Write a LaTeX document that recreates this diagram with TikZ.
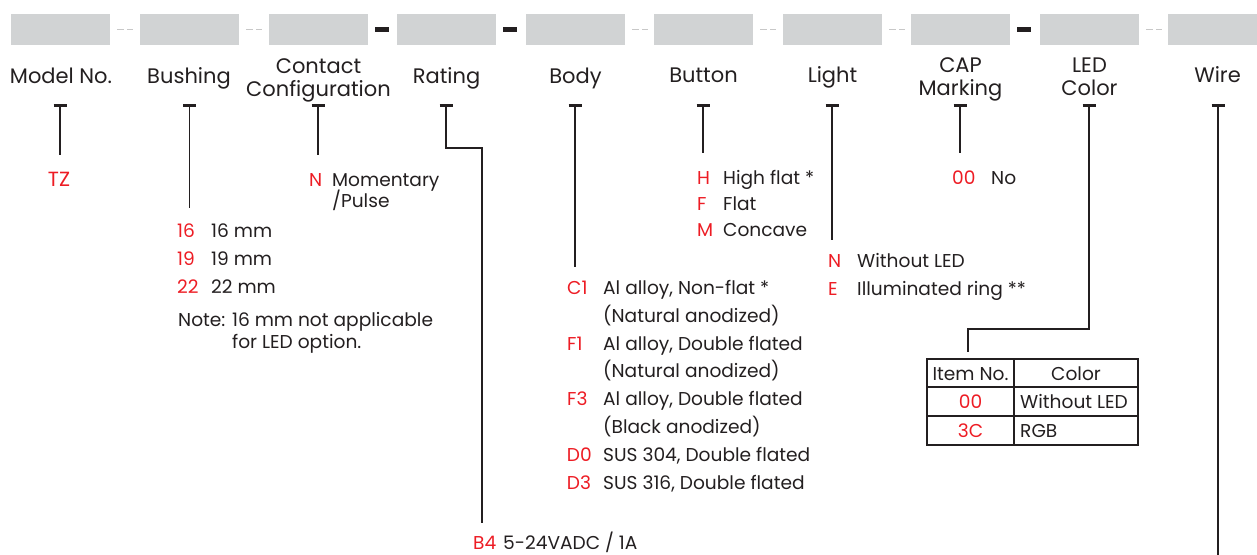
\documentclass[tikz,border=0pt]{standalone}
\usepackage{fontspec}
\setmainfont{Poppins}
\definecolor{ink}{HTML}{231F20}
\definecolor{codered}{HTML}{ED1C24}
\definecolor{slotgrey}{HTML}{D1D3D4}
\definecolor{sepgrey}{HTML}{C8C8C8}
\newcommand{\hdrfont}{\fontsize{21}{23}\selectfont}
\newcommand{\bodyfont}{\fontsize{18.6}{21}\selectfont}
\tikzset{
  slotbox/.style={fill=slotgrey, draw=none, minimum width=99, minimum height=31, inner sep=0},
  sepdash/.style={draw=sepgrey, line width=1.8, dash pattern=on 7pt off 3pt},
  blackdash/.style={draw=ink, line width=5},
  hdr/.style={font=\hdrfont, text=ink, inner sep=0, anchor=base},
  code/.style={font=\bodyfont, text=codered, inner sep=0, anchor=base west},
  desc/.style={font=\bodyfont, text=ink, inner sep=0, anchor=base west},
  conn/.style={draw=ink, line width=1.8},
  tbar/.style={draw=ink, line width=3},
  cell/.style={draw=ink, line width=1.2, inner sep=0, font=\bodyfont, text=ink},
}
\begin{document}
\begin{tikzpicture}[x=1pt,y=-1pt]
\useasboundingbox (0,0) rectangle (1257,554);
\clip (0,0) rectangle (1257,554);
% slots
\foreach \i/\x in {1/11,2/140,3/269,4/397,5/526,6/654,7/783,8/911,9/1040,10/1168}
  \node[slotbox] (s\i) at (\x+49.5,29.5) {};
% separators
\foreach \a/\b in {1/2,2/3,5/6,6/7,7/8,9/10}
  \draw[sepdash] ([xshift=7]s\a.east) -- ([xshift=23]s\a.east);
\foreach \a in {3,4,8}
  \draw[blackdash] ([xshift=7]s\a.east) -- ([xshift=21]s\a.east);
% headers
\node[hdr] (h1) at (61,83) {Model No.};
\node[hdr] (h2) at (189,83) {Bushing};
\node[hdr] (h3a) at (318.5,73) {Contact};
\node[hdr] (h3b) at (318.5,96.5) {Configuration};
\node[hdr] (h4) at (446.5,83) {Rating};
\node[hdr] (h5) at (575.5,83) {Body};
\node[hdr] (h6) at (703.5,82.5) {Button};
\node[hdr] (h7) at (832.5,82.5) {Light};
\node[hdr] (h8a) at (960.5,72.5) {CAP};
\node[hdr] (h8b) at (960.5,95.5) {Marking};
\node[hdr] (h9a) at (1089.5,72.5) {LED};
\node[hdr] (h9b) at (1089.5,95.5) {Color};
\node[hdr] (h10) at (1217.5,82.5) {Wire};
% connector coordinates
\foreach \n/\x in {1/60,2/189.5,3/318,4/446,5/575,6/703,7/832,8/960,9/1089,10/1218}
  \coordinate (t\n) at (\x,104);
\coordinate (e1) at (60,155);
\coordinate (e2) at (189.5,208);
\coordinate (e3) at (318,155);
\coordinate (r1) at (446,148);
\coordinate (r2) at (482,148);
\coordinate (e4) at (482,523);
\coordinate (e5) at (575,267);
\coordinate (e6) at (703,153);
\coordinate (e7) at (832,240);
\coordinate (e8) at (960,153);
\coordinate (l1) at (1089,329);
\coordinate (l2) at (968,329);
\coordinate (e9) at (968,352);
\coordinate (e10) at (1218,556);
% T bars
\foreach \n in {1,...,10}
  \draw[tbar] ([xshift=-6.5pt,yshift=-1.5pt]t\n) -- ([xshift=6.5pt,yshift=-1.5pt]t\n);
% connectors
\draw[conn] (t1) -- (e1);
\draw[conn] (t2) -- (e2);
\draw[conn] (t3) -- (e3);
\draw[conn] (t4) -- (r1) -- (r2) -- (e4);
\draw[conn] (t5) -- (e5);
\draw[conn] (t6) -- (e6);
\draw[conn] (t7) -- (e7);
\draw[conn] (t8) -- (e8);
\draw[conn] (t9) -- (l1) -- (l2) -- (e9);
\draw[conn] (t10) -- (e10);
% Model No.
\node[hdr, text=codered, font=\fontsize{20.5}{22}\selectfont] (tz) at (59,186) {TZ};
% Bushing
\node[code] (c16) at (177,237.5) {16};
\node[desc] (d16) at (211,237.5) {16 mm};
\node[code] (c19) at (177,265.5) {19};
\node[desc] (d19) at (211,265.5) {19 mm};
\node[code] (c22) at (177,293.3) {22};
\node[desc] (d22) at (211,293.3) {22 mm};
\node[desc] (note1) at (178,326.7) {Note: 16 mm not applicable};
\node[desc] (note2) at (232,348.3) {for LED option.};
% Contact
\node[code] (cN) at (309,186) {N};
\node[desc] (dN1) at (332,186) {Momentary};
\node[desc] (dN2) at (332,207) {/Pulse};
% Rating
\node[code] (cB4) at (473,549.5) {B4};
\node[desc] (dB4) at (503,549.5) {5-24VADC / 1A};
% Body
\node[code] (cC1) at (567,294) {C1};
\node[desc] (dC1a) at (603,294) {Al alloy, Non-flat *};
\node[desc] (dC1b) at (603,322) {(Natural anodized)};
\node[code] (cF1) at (567,350) {F1};
\node[desc] (dF1a) at (603,350) {Al alloy, Double flated};
\node[desc] (dF1b) at (603,377.7) {(Natural anodized)};
\node[code] (cF3) at (567,405.5) {F3};
\node[desc] (dF3a) at (603,405.5) {Al alloy, Double flated};
\node[desc] (dF3b) at (603,433.3) {(Black anodized)};
\node[code] (cD0) at (566.7,461) {D0};
\node[desc] (dD0) at (603,461) {SUS 304, Double flated};
\node[code] (cD3) at (566.7,489) {D3};
\node[desc] (dD3) at (603,489) {SUS 316, Double flated};
% Button
\node[code] (cH) at (697,184.3) {H};
\node[desc] (dH) at (723,184.3) {High flat *};
\node[code] (cF) at (697,210.3) {F};
\node[desc] (dF) at (723,210.3) {Flat};
\node[code] (cM) at (697,236.5) {M};
\node[desc] (dM) at (723,236.5) {Concave};
% Light
\node[code] (cLN) at (828,267.3) {N};
\node[desc] (dLN) at (857,267.3) {Without LED};
\node[code] (cLE) at (828,295.5) {E};
\node[desc] (dLE) at (857,295.5) {Illuminated ring **};
% CAP
\node[code] (c00) at (952,184.3) {00};
\node[desc] (d00) at (991,184.3) {No};
% LED colour table
\node[cell, minimum width=87, minimum height=28] (ti) at (970.5,373) {};
\node[cell, minimum width=124, minimum height=28] (tc) at (1076,373) {};
\node[cell, minimum width=87, minimum height=29] (t00) at (970.5,401.5) {};
\node[cell, minimum width=124, minimum height=29] (tw) at (1076,401.5) {};
\node[cell, minimum width=87, minimum height=29] (t3c) at (970.5,430.5) {};
\node[cell, minimum width=124, minimum height=29] (trgb) at (1076,430.5) {};
\node[desc, anchor=base] (xi) at (970.5,380.7) {Item No.};
\node[desc, anchor=base] (xc) at (1076,380.7) {Color};
\node[code, anchor=base] (x00) at (970.5,408.3) {00};
\node[desc] (xw) at (1020,408.3) {Without LED};
\node[code, anchor=base] (x3c) at (970.5,437.3) {3C};
\node[desc] (xrgb) at (1020,437.3) {RGB};
\end{tikzpicture}
\end{document}
